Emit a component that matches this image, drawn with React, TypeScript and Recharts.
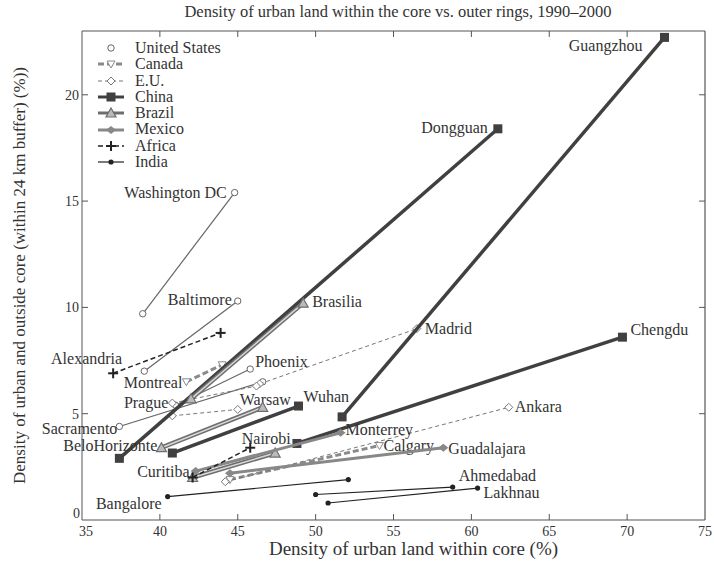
import React from 'react';
import { ScatterChart, Scatter, XAxis, YAxis, Label, ReferenceLine } from 'recharts';

type Seg = { city: string; from: [number, number]; to: [number, number] };

const xTicks = [35, 40, 45, 50, 55, 60, 65, 70, 75];
const yTicks = [0, 5, 10, 15, 20];
const topTicks = [40, 45, 50, 55, 60, 65, 70];
const rightTicks = [5, 10, 15, 20];

// core density (%) , urban density within 24 km buffer (%)
const unitedStates: Seg[] = [
  { city: 'Washington DC', from: [38.9, 9.7], to: [44.8, 15.4] },
  { city: 'Baltimore', from: [39.0, 7.0], to: [45.0, 10.3] },
  { city: 'Phoenix', from: [41.0, 5.4], to: [45.8, 7.1] },
  { city: 'Sacramento', from: [37.4, 4.4], to: [46.6, 6.5] },
];
const canada: Seg[] = [
  { city: 'Montreal', from: [41.7, 6.5], to: [44.0, 7.3] },
  { city: 'Calgary', from: [44.5, 1.9], to: [54.1, 3.5] },
];
const eu: Seg[] = [
  { city: 'Madrid', from: [46.4, 6.4], to: [56.5, 9.0] },
  { city: 'Prague', from: [40.8, 5.5], to: [46.2, 6.3] },
  { city: 'Warsaw', from: [40.8, 4.9], to: [45.0, 5.2] },
  { city: 'Ankara', from: [44.2, 1.8], to: [62.4, 5.3] },
];
const china: Seg[] = [
  { city: 'Guangzhou', from: [51.7, 4.85], to: [72.4, 22.7] },
  { city: 'Dongguan', from: [37.4, 2.9], to: [61.7, 18.4] },
  { city: 'Chengdu', from: [48.8, 3.6], to: [69.7, 8.6] },
  { city: 'Wuhan', from: [40.8, 3.15], to: [48.9, 5.36] },
];
const brazil: Seg[] = [
  { city: 'Brasilia', from: [42.0, 5.7], to: [49.2, 10.2] },
  { city: 'BeloHorizonte', from: [40.1, 3.4], to: [46.6, 5.3] },
  { city: 'Curitiba', from: [42.1, 2.0], to: [47.4, 3.15] },
];
const mexico: Seg[] = [
  { city: 'Monterrey', from: [42.3, 2.3], to: [51.6, 4.1] },
  { city: 'Guadalajara', from: [44.5, 2.2], to: [58.2, 3.4] },
];
const africa: Seg[] = [
  { city: 'Alexandria', from: [37.0, 6.9], to: [43.9, 8.8] },
  { city: 'Nairobi', from: [42.1, 2.0], to: [45.8, 3.4] },
];
const india: Seg[] = [
  { city: 'Bangalore', from: [40.5, 1.1], to: [52.1, 1.9] },
  { city: 'Ahmedabad', from: [50.0, 1.2], to: [58.8, 1.55] },
  { city: 'Lakhnau', from: [50.8, 0.8], to: [60.4, 1.5] },
];

// where each city name sits: which end, offset, anchor
const labelPlace: Record<string, { at: 0 | 1; dx: number; dy: number; anchor: 'start' | 'end' | 'middle' }> = {
  'Washington DC': { at: 1, dx: -8, dy: 5, anchor: 'end' },
  Baltimore: { at: 1, dx: -6, dy: 4, anchor: 'end' },
  Phoenix: { at: 1, dx: 5, dy: -2, anchor: 'start' },
  Sacramento: { at: 0, dx: -2, dy: 8, anchor: 'end' },
  Montreal: { at: 0, dx: -4, dy: 6, anchor: 'end' },
  Calgary: { at: 1, dx: 4, dy: 5, anchor: 'start' },
  Madrid: { at: 1, dx: 8, dy: 5, anchor: 'start' },
  Prague: { at: 0, dx: -4, dy: 5, anchor: 'end' },
  Warsaw: { at: 1, dx: 2, dy: -4, anchor: 'start' },
  Ankara: { at: 1, dx: 6, dy: 5, anchor: 'start' },
  Guangzhou: { at: 1, dx: -22, dy: 14, anchor: 'end' },
  Dongguan: { at: 1, dx: -10, dy: 4, anchor: 'end' },
  Chengdu: { at: 1, dx: 8, dy: -2, anchor: 'start' },
  Wuhan: { at: 1, dx: 5, dy: -4, anchor: 'start' },
  Brasilia: { at: 1, dx: 9, dy: 4, anchor: 'start' },
  BeloHorizonte: { at: 0, dx: -4, dy: 3, anchor: 'end' },
  Curitiba: { at: 0, dx: -3, dy: 0, anchor: 'end' },
  Monterrey: { at: 1, dx: 5, dy: 2, anchor: 'start' },
  Guadalajara: { at: 1, dx: 5, dy: 6, anchor: 'start' },
  Alexandria: { at: 0, dx: 9, dy: -9, anchor: 'end' },
  Nairobi: { at: 1, dx: 16, dy: -4, anchor: 'middle' },
  Bangalore: { at: 0, dx: -6, dy: 12, anchor: 'end' },
  Ahmedabad: { at: 1, dx: 6, dy: -6, anchor: 'start' },
  Lakhnau: { at: 1, dx: 6, dy: 10, anchor: 'start' },
};

const FONT = '"Liberation Serif", "DejaVu Serif", serif';
const AXIS = '#555';

type Marker = 'circle' | 'triDown' | 'diamondOpen' | 'square' | 'triUp' | 'diamond' | 'plus' | 'dot';

const drawMarker = (m: Marker, cx: number, cy: number, color: string) => {
  switch (m) {
    case 'circle':
      return <circle cx={cx} cy={cy} r={3.2} fill="#fff" stroke={color} strokeWidth={1} />;
    case 'triDown':
      return <polygon points={`${cx - 4},${cy - 3} ${cx + 4},${cy - 3} ${cx},${cy + 4}`} fill="#fff" stroke={color} strokeWidth={1} />;
    case 'diamondOpen':
      return <polygon points={`${cx},${cy - 4} ${cx + 4},${cy} ${cx},${cy + 4} ${cx - 4},${cy}`} fill="#fff" stroke={color} strokeWidth={1} />;
    case 'square':
      return <rect x={cx - 4.5} y={cy - 4.5} width={9} height={9} fill={color} />;
    case 'triUp':
      return <polygon points={`${cx - 5},${cy + 4} ${cx + 5},${cy + 4} ${cx},${cy - 5}`} fill="#bbb" stroke={color} strokeWidth={1.2} />;
    case 'diamond':
      return <polygon points={`${cx},${cy - 4} ${cx + 5},${cy} ${cx},${cy + 4} ${cx - 5},${cy}`} fill={color} />;
    case 'plus':
      return (
        <g stroke={color} strokeWidth={2}>
          <line x1={cx - 5} y1={cy} x2={cx + 5} y2={cy} />
          <line x1={cx} y1={cy - 5} x2={cx} y2={cy + 5} />
        </g>
      );
    default:
      return <circle cx={cx} cy={cy} r={2.6} fill={color} />;
  }
};

const groups = [
  { name: 'United States', segs: unitedStates, color: '#666', width: 1.2, dash: undefined, marker: 'circle' as Marker, inner: 0 },
  { name: 'Canada', segs: canada, color: '#8a8a8a', width: 3, dash: '6 3', marker: 'triDown' as Marker, inner: 0 },
  { name: 'E.U.', segs: eu, color: '#777', width: 1, dash: '4 3', marker: 'diamondOpen' as Marker, inner: 0 },
  { name: 'China', segs: china, color: '#404040', width: 3.5, dash: undefined, marker: 'square' as Marker, inner: 0 },
  { name: 'Brazil', segs: brazil, color: '#6e6e6e', width: 4.5, dash: undefined, marker: 'triUp' as Marker, inner: 1.5 },
  { name: 'Mexico', segs: mexico, color: '#888', width: 3, dash: undefined, marker: 'diamond' as Marker, inner: 0 },
  { name: 'Africa', segs: africa, color: '#222', width: 1.5, dash: '5 3', marker: 'plus' as Marker, inner: 0 },
  { name: 'India', segs: india, color: '#222', width: 1.2, dash: undefined, marker: 'dot' as Marker, inner: 0 },
];

const makeShape = (marker: Marker, color: string) => (props: any) => {
  const { cx, cy, payload } = props;
  if (cx == null || cy == null) return <g />;
  const lp = payload.label ? labelPlace[payload.label] : null;
  return (
    <g>
      {drawMarker(marker, cx, cy, color)}
      {lp && (
        <text x={cx + lp.dx} y={cy + lp.dy} textAnchor={lp.anchor} fontFamily={FONT} fontSize={16} fill="#333">
          {payload.label}
        </text>
      )}
    </g>
  );
};

const BottomTick = (props: any) => {
  const { x, y, payload } = props;
  const v = payload.value;
  return (
    <g>
      {v !== 35 && v !== 75 && <line x1={x} y1={y} x2={x} y2={y - 6} stroke={AXIS} />}
      <text x={v === 35 ? x + 4 : x} y={y + 16} textAnchor="middle" fontFamily={FONT} fontSize={14} fill="#333">
        {v}
      </text>
    </g>
  );
};

const LeftTick = (props: any) => {
  const { x, y, payload } = props;
  const v = payload.value;
  return (
    <g>
      {v !== 0 && <line x1={x} y1={y} x2={x + 6} y2={y} stroke={AXIS} />}
      <text x={v === 0 ? x - 2 : x - 3} y={v === 0 ? y - 2 : y + 5} textAnchor="end" fontFamily={FONT} fontSize={14} fill="#333">
        {v}
      </text>
    </g>
  );
};

const LegendBox = () => (
  <div
    style={{
      position: 'absolute',
      left: 96,
      top: 40,
      fontFamily: FONT,
      fontSize: 16,
      color: '#333',
      lineHeight: '16.3px',
    }}
  >
    {groups.map((g) => (
      <div key={g.name} style={{ display: 'flex', alignItems: 'center', height: 16.3 }}>
        <svg width={30} height={16} style={{ marginRight: 9 }}>
          {g.name !== 'United States' && (
            <line x1={2} y1={8} x2={28} y2={8} stroke={g.color} strokeWidth={Math.min(g.width, 3)} strokeDasharray={g.dash} />
          )}
          {drawMarker(g.marker, 15, 8, g.color)}
        </svg>
        <span>{g.name}</span>
      </div>
    ))}
  </div>
);

export default function App() {
  return (
    <div style={{ position: 'absolute', left: 0, top: 0, width: 714, height: 574, background: '#fff' }}>
      <div
        style={{
          position: 'absolute',
          top: 2,
          left: 0,
          width: 796,
          textAlign: 'center',
          fontFamily: FONT,
          fontSize: 16.5,
          color: '#333',
        }}
      >
        Density of urban land within the core vs. outer rings, 1990–2000
      </div>
      <ScatterChart width={714} height={574} margin={{ top: 31, right: 9, bottom: 14, left: 0 }}>
        <XAxis
          dataKey="x"
          type="number"
          domain={[35, 75]}
          ticks={xTicks}
          tickSize={0}
          tickMargin={0}
          tickLine={false}
          tick={<BottomTick />}
          height={40}
          stroke={AXIS}
          interval={0}
        >
          <Label
            content={(p: any) => (
              <text x={p.viewBox.x + p.viewBox.width / 2 + 20} y={p.viewBox.y + 35} textAnchor="middle" fontFamily={FONT} fontSize={19} fill="#333">
                Density of urban land within core (%)
              </text>
            )}
          />
        </XAxis>
        <YAxis
          dataKey="y"
          type="number"
          domain={[0, 23]}
          ticks={yTicks}
          tickSize={0}
          tickMargin={0}
          tickLine={false}
          tick={<LeftTick />}
          width={82}
          stroke={AXIS}
          interval={0}
        >
          <Label
            content={(p: any) => {
              const cx = 25;
              const cy = p.viewBox.y + p.viewBox.height / 2;
              return (
                <text x={cx} y={cy} transform={`rotate(-90 ${cx} ${cy})`} textAnchor="middle" fontFamily={FONT} fontSize={17} fill="#333">
                  Density of urban and outside core (within 24 km buffer) (%))
                </text>
              );
            }}
          />
        </YAxis>
        <ReferenceLine y={23} stroke={AXIS} strokeWidth={1.2} />
        <ReferenceLine x={75} stroke={AXIS} strokeWidth={1.2} />
        {topTicks.map((t) => (
          <ReferenceLine key={`t${t}`} segment={[{ x: t, y: 23 }, { x: t, y: 22.72 }]} stroke={AXIS} />
        ))}
        {rightTicks.map((t) => (
          <ReferenceLine key={`r${t}`} segment={[{ x: 75, y: t }, { x: 74.62, y: t }]} stroke={AXIS} />
        ))}
        {groups.flatMap((g) =>
          g.segs.flatMap((s) => {
            const lp = labelPlace[s.city];
            const data = [s.from, s.to].map((p, i) => ({ x: p[0], y: p[1], label: lp && lp.at === i ? s.city : '' }));
            const out = [
              <Scatter
                key={s.city}
                name={g.name}
                data={data}
                line={{ stroke: g.color, strokeWidth: g.width, strokeDasharray: g.dash }}
                lineType="joint"
                shape={g.inner ? () => <g /> : makeShape(g.marker, g.color)}
                isAnimationActive={false}
                legendType="none"
              />,
            ];
            if (g.inner) {
              out.push(
                <Scatter
                  key={`${s.city}-inner`}
                  name={g.name}
                  data={data}
                  line={{ stroke: '#d8d8d8', strokeWidth: g.inner }}
                  lineType="joint"
                  shape={makeShape(g.marker, g.color)}
                  isAnimationActive={false}
                  legendType="none"
                />
              );
            }
            return out;
          })
        )}
      </ScatterChart>
      <LegendBox />
    </div>
  );
}
